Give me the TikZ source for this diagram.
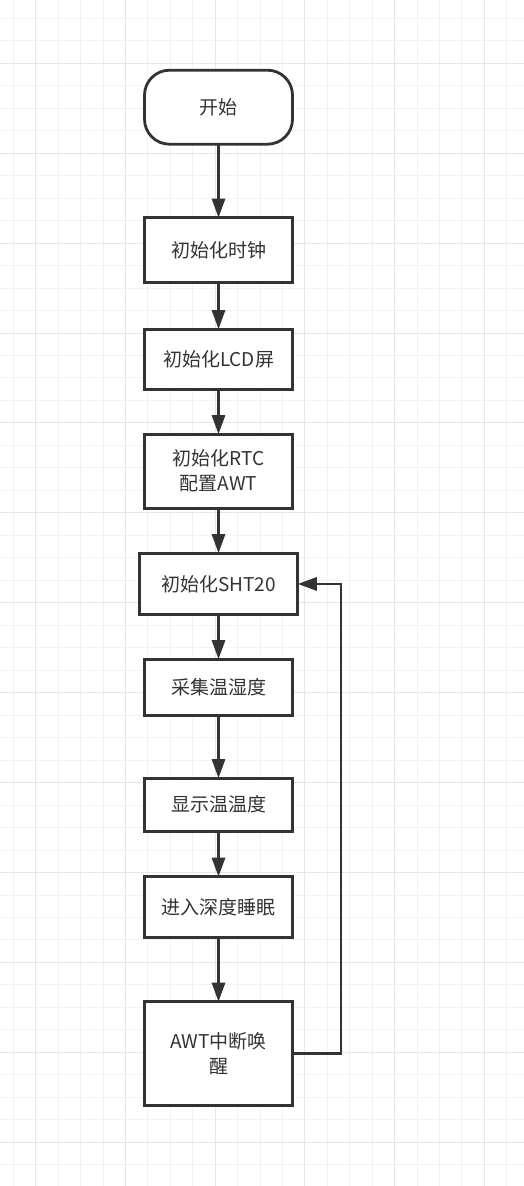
\documentclass[tikz,border=0pt]{standalone}
\usepackage{fontspec}
\setmainfont{Noto Sans CJK SC}
\usepackage{xcolor}
\usetikzlibrary{arrows.meta,positioning}
\definecolor{ink}{HTML}{333333}
\definecolor{gridminor}{HTML}{F2F2F2}
\definecolor{gridmajor}{HTML}{E6E6E6}

\begin{document}
\begin{tikzpicture}[x=1pt, y=-1pt,
  font=\fontsize{19}{25}\selectfont, text=ink,
  box/.style={draw=ink, line width=2.8pt, fill=white, align=center,
    minimum width=148pt, inner sep=2pt, outer sep=0pt},
  term/.style={box, rounded corners=25pt},
  ar/.style={-{Triangle[length=19pt,width=13pt]}, draw=ink, line width=2.8pt}]
  % grid background
  \useasboundingbox (0,0) rectangle (524,1186);
  \fill[white] (0,0) rectangle (524,1186);
  \foreach \i in {0,...,22} {
    \pgfmathsetmacro{\gx}{13.3+22.43*\i}
    \draw[gridminor, line width=1pt] (\gx,0) -- (\gx,1186);
  }
  \foreach \i in {0,...,52} {
    \pgfmathsetmacro{\gy}{18.3+22.48*\i}
    \draw[gridminor, line width=1pt] (0,\gy) -- (524,\gy);
  }
  \foreach \i in {1,5,...,21} {
    \pgfmathsetmacro{\gx}{13.3+22.43*\i}
    \draw[gridmajor, line width=1pt] (\gx,0) -- (\gx,1186);
  }
  \foreach \i in {2,6,...,50} {
    \pgfmathsetmacro{\gy}{18.3+22.48*\i}
    \draw[gridmajor, line width=1pt] (0,\gy) -- (524,\gy);
  }
  % flow
  \node[term, minimum height=74pt] (start) at (218.5,107.2) {开始};
  \node[box, minimum height=64.5pt, below=73.5pt of start] (clk) {初始化时钟};
  \node[box, minimum height=60.5pt, below=47pt of clk] (lcd) {初始化LCD屏};
  \node[box, minimum height=74pt, below=44.5pt of lcd] (rtc) {初始化RTC\\配置AWT};
  \node[box, minimum height=61.5pt, minimum width=158.5pt, below=45pt of rtc] (sht) {初始化SHT20};
  \node[box, minimum height=56.5pt, below=44.5pt of sht] (meas) {采集温湿度};
  \node[box, minimum height=53pt, below=62.5pt of meas] (disp) {显示温温度};
  \node[box, minimum height=60.5pt, below=45.5pt of disp] (sleep) {进入深度睡眠};
  \node[box, minimum height=103.5pt, below=64.5pt of sleep] (wake) {AWT中断唤\\醒};
  \draw[ar] (start) -- (clk);
  \draw[ar] (clk) -- (lcd);
  \draw[ar] (lcd) -- (rtc);
  \draw[ar] (rtc) -- (sht);
  \draw[ar] (sht) -- (meas);
  \draw[ar] (meas) -- (disp);
  \draw[ar] (disp) -- (sleep);
  \draw[ar] (sleep) -- (wake);
  \draw[ar] (wake.east) -- ++(48.5,0) |- (sht.east);
\end{tikzpicture}
\end{document}
